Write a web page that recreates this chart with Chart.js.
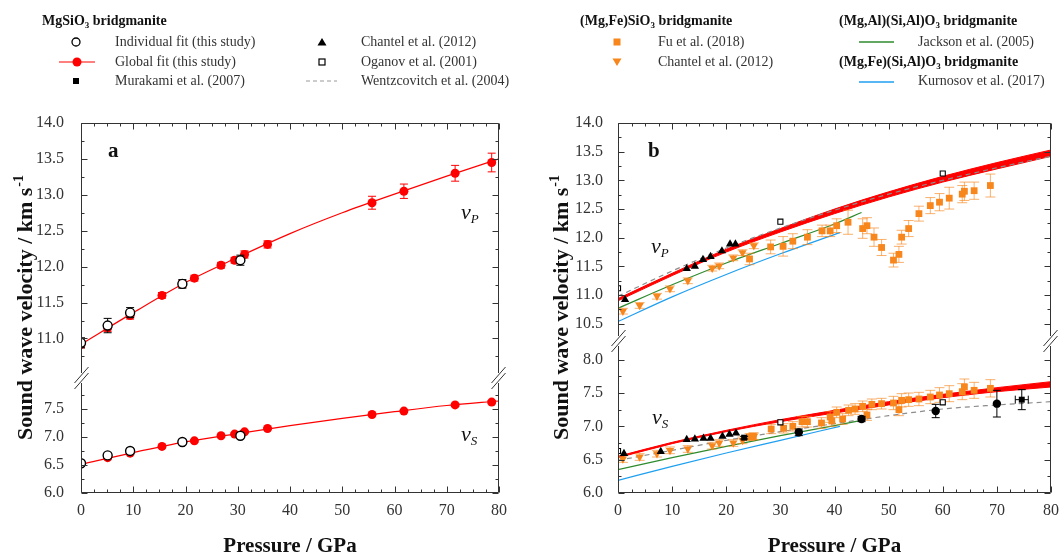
<!DOCTYPE html>
<html>
<head>
<meta charset="utf-8">
<title>Sound wave velocities of bridgmanite</title>
<script src="https://cdn.jsdelivr.net/npm/chart.js@4.4.1/dist/chart.umd.min.js"></script>
<style>
  body{margin:0;background:#fff;font-family:"Liberation Serif","Times New Roman",serif;}
  #wrap{position:relative;width:1059px;height:557px;overflow:hidden;}
  canvas{position:absolute;top:0;}
  #ca{left:0;} #cb{left:540px;}
  .hd,.lg{position:absolute;height:18px;line-height:18px;white-space:nowrap;font-size:14px;}
  .hd{font-weight:bold;color:#111;}
  .lg{color:#333;}
  .hd sub{font-size:9px;vertical-align:-3px;line-height:0;}
  .mk{position:absolute;}
</style>
</head>
<body>
<div id="wrap">
  <canvas id="ca" width="540" height="557"></canvas>
  <canvas id="cb" width="519" height="557"></canvas>

  <div class="hd" style="left:42px;top:12px">MgSiO<sub>3</sub> bridgmanite</div>
  <svg class="mk" style="left:70px;top:36px" width="12" height="12"><circle cx="6" cy="6" r="4" fill="#fff" stroke="#000" stroke-width="1.3"/></svg>
  <div class="lg" style="left:115px;top:33px">Individual fit (this study)</div>
  <svg class="mk" style="left:59px;top:56px" width="36" height="12"><line x1="0" y1="6" x2="36" y2="6" stroke="#f00" stroke-width="1.2"/><circle cx="18" cy="6" r="4.5" fill="#f00"/></svg>
  <div class="lg" style="left:115px;top:53px">Global fit (this study)</div>
  <svg class="mk" style="left:70px;top:75px" width="12" height="12"><rect x="3" y="3" width="6" height="6" fill="#000"/></svg>
  <div class="lg" style="left:115px;top:72px">Murakami et al. (2007)</div>

  <svg class="mk" style="left:316px;top:36px" width="12" height="12"><polygon points="6,2 10.5,9.5 1.5,9.5" fill="#000"/></svg>
  <div class="lg" style="left:361px;top:33px">Chantel et al. (2012)</div>
  <svg class="mk" style="left:316px;top:56px" width="12" height="12"><rect x="3" y="3" width="6" height="6" fill="#fff" stroke="#000" stroke-width="1.2"/></svg>
  <div class="lg" style="left:361px;top:53px">Oganov et al. (2001)</div>
  <svg class="mk" style="left:306px;top:75px" width="31" height="12"><line x1="0" y1="6" x2="31" y2="6" stroke="#999" stroke-width="1.2" stroke-dasharray="4 3"/></svg>
  <div class="lg" style="left:361px;top:72px">Wentzcovitch et al. (2004)</div>

  <div class="hd" style="left:580px;top:12px">(Mg,Fe)SiO<sub>3</sub> bridgmanite</div>
  <svg class="mk" style="left:611px;top:36px" width="12" height="12"><rect x="2.5" y="2.5" width="7" height="7" fill="#f7861c"/></svg>
  <div class="lg" style="left:658px;top:33px">Fu et al. (2018)</div>
  <svg class="mk" style="left:611px;top:56px" width="12" height="12"><polygon points="1.5,2.5 10.5,2.5 6,10" fill="#f7861c"/></svg>
  <div class="lg" style="left:658px;top:53px">Chantel et al. (2012)</div>

  <div class="hd" style="left:839px;top:12px">(Mg,Al)(Si,Al)O<sub>3</sub> bridgmanite</div>
  <svg class="mk" style="left:859px;top:36px" width="35" height="12"><line x1="0" y1="6" x2="35" y2="6" stroke="#2e8b2e" stroke-width="1.3"/></svg>
  <div class="lg" style="left:918px;top:33px">Jackson et al. (2005)</div>
  <div class="hd" style="left:839px;top:53px">(Mg,Fe)(Si,Al)O<sub>3</sub> bridgmanite</div>
  <svg class="mk" style="left:859px;top:76px" width="35" height="12"><line x1="0" y1="6" x2="35" y2="6" stroke="#1e9ff0" stroke-width="1.3"/></svg>
  <div class="lg" style="left:918px;top:72px">Kurnosov et al. (2017)</div>
</div>

<script>
// ---- panel a: MgSiO3, this study ----
const pGlobal = [0, 5.1, 9.4, 15.5, 19.4, 21.7, 26.8, 29.4, 31.3, 35.7, 55.7, 61.8, 71.6, 78.6];
const vpGlobal = [10.92, 11.15, 11.32, 11.60, 11.76, 11.84, 12.02, 12.09, 12.17, 12.31, 12.89, 13.05, 13.30, 13.45];
const vpGlobalErr = [0.05, 0.05, 0.05, 0.04, 0.05, 0.04, 0.04, 0.04, 0.05, 0.05, 0.09, 0.10, 0.11, 0.13];
const vsGlobal = [6.52, 6.63, 6.71, 6.83, 6.90, 6.93, 7.02, 7.05, 7.09, 7.15, 7.40, 7.46, 7.57, 7.62];
const vsGlobalErr = [0.02, 0.02, 0.02, 0.02, 0.02, 0.02, 0.02, 0.02, 0.02, 0.02, 0.02, 0.02, 0.02, 0.03];

const pIndiv = [0, 5.1, 9.4, 19.4, 30.5];
const vpIndiv = [10.94, 11.18, 11.36, 11.76, 12.09];
const vpIndivErr = [0.07, 0.10, 0.07, 0.06, 0.07];
const vsIndiv = [6.53, 6.67, 6.75, 6.91, 7.02];
const vsIndivErr = [0.04, 0.04, 0.04, 0.03, 0.04];

const pFit = [0, 10, 20, 30, 40, 50, 60, 70, 80];
const vpFit = [10.92, 11.36, 11.78, 12.13, 12.46, 12.75, 13.01, 13.26, 13.50];
const vsFit = [6.51, 6.72, 6.91, 7.06, 7.20, 7.33, 7.45, 7.56, 7.64];

// ---- panel b: literature ----
const vpBandHi = [10.94, 11.38, 11.80, 12.16, 12.50, 12.80, 13.07, 13.31, 13.53];
const vpBandLo = [10.90, 11.34, 11.75, 12.10, 12.42, 12.71, 12.97, 13.20, 13.42];
const vsBandHi = [6.55, 6.76, 6.94, 7.10, 7.24, 7.37, 7.48, 7.58, 7.67];
const vsBandLo = [6.53, 6.74, 6.92, 7.07, 7.20, 7.32, 7.43, 7.52, 7.59];
const vpWentz = [10.98, 11.42, 11.82, 12.17, 12.48, 12.76, 13.00, 13.22, 13.42];
const vsWentz = [6.49, 6.64, 6.79, 6.92, 7.04, 7.16, 7.26, 7.32, 7.37];

const pJackson = [0, 10, 20, 30, 40, 45];
const vpJackson = [10.77, 11.18, 11.56, 11.90, 12.24, 12.44];
const vsJackson = [6.35, 6.53, 6.70, 6.86, 7.01, 7.09];
const pKurnosov = [0, 10, 20, 30, 41];
const vpKurnosov = [10.54, 10.97, 11.36, 11.72, 12.09];
const vsKurnosov = [6.19, 6.40, 6.60, 6.79, 7.00];

const pOganov = [0, 30, 60];
const vpOganov = [11.12, 12.28, 13.12];
const vsOganov = [6.63, 7.06, 7.36];

const pChantelVp = [1.3, 12.7, 14.2, 15.7, 17.1, 19.2, 20.7, 21.7];
const vpChantel = [10.92, 11.46, 11.50, 11.62, 11.67, 11.77, 11.89, 11.89];
const pChantelVs = [1.1, 7.9, 12.7, 14.2, 15.8, 17.1, 19.3, 20.6, 21.8];
const vsChantel = [6.59, 6.62, 6.80, 6.81, 6.82, 6.82, 6.85, 6.88, 6.90];

const pMurakami = [23.3, 33.4, 45.0, 58.7, 70.0, 74.6];
const vsMurakami = [6.83, 6.91, 7.11, 7.23, 7.34, 7.40];
const vsMurakamiErr = [0.02, 0.05, 0.04, 0.10, 0.20, 0.15];
const pMurakamiErr = [0, 0, 0, 0, 0, 1.2];

const pChantelFe = [0.9, 4.0, 7.2, 9.6, 12.9, 17.4, 18.7, 21.3, 23.0, 25.1];
const vpChantelFe = [10.72, 10.82, 10.98, 11.11, 11.25, 11.47, 11.51, 11.65, 11.74, 11.86];
const vsChantelFe = [6.51, 6.54, 6.59, 6.64, 6.66, 6.71, 6.75, 6.75, 6.79, 6.85];
const feErr = [0.05, 0.05, 0.05, 0.05, 0.05, 0.05, 0.05, 0.05, 0.05, 0.05];

const pFuVp = [24.3, 28.2, 30.5, 32.3, 35.0, 37.7, 39.2, 40.4, 42.5, 45.2, 46.0, 47.3, 48.7, 50.9, 51.9, 52.4, 53.7, 55.6, 57.7, 59.4, 61.2, 63.6, 64.0, 65.8, 68.8];
const vpFu = [11.63, 11.84, 11.85, 11.94, 12.01, 12.12, 12.12, 12.21, 12.27, 12.16, 12.21, 12.01, 11.83, 11.61, 11.71, 12.01, 12.16, 12.42, 12.56, 12.62, 12.69, 12.76, 12.81, 12.82, 12.91];
const vpFuErr = [0.10, 0.12, 0.17, 0.13, 0.13, 0.10, 0.10, 0.12, 0.21, 0.17, 0.14, 0.16, 0.14, 0.12, 0.14, 0.12, 0.14, 0.13, 0.14, 0.15, 0.19, 0.15, 0.16, 0.15, 0.20];
const pFuVs = [24.3, 25.0, 28.3, 30.6, 32.3, 34.0, 35.0, 37.6, 39.2, 39.5, 40.4, 41.5, 42.6, 43.8, 45.2, 46.0, 46.9, 48.7, 50.9, 51.9, 52.4, 53.7, 55.6, 57.7, 59.4, 61.2, 63.6, 64.0, 65.8, 68.8];
const vsFu = [6.84, 6.85, 6.96, 6.97, 7.00, 7.07, 7.07, 7.05, 7.14, 7.08, 7.21, 7.11, 7.24, 7.26, 7.30, 7.17, 7.33, 7.34, 7.35, 7.25, 7.39, 7.40, 7.41, 7.44, 7.47, 7.49, 7.52, 7.59, 7.54, 7.57];
const vsFuErr = [0.05, 0.05, 0.07, 0.07, 0.07, 0.08, 0.08, 0.08, 0.08, 0.08, 0.08, 0.08, 0.08, 0.08, 0.08, 0.08, 0.08, 0.08, 0.10, 0.09, 0.10, 0.10, 0.10, 0.10, 0.11, 0.12, 0.12, 0.12, 0.12, 0.13];

// ---- axes ----
const xTicks = [0, 10, 20, 30, 40, 50, 60, 70, 80];
const vpTicksA = [11.0, 11.5, 12.0, 12.5, 13.0, 13.5, 14.0];
const vsTicksA = [6.0, 6.5, 7.0, 7.5];
const vpTicksB = [10.5, 11.0, 11.5, 12.0, 12.5, 13.0, 13.5, 14.0];
const vsTicksB = [6.0, 6.5, 7.0, 7.5, 8.0];
const xTitle = 'Pressure / GPa';
const yTitle = 'Sound wave velocity / km s';
const ySup = '-1';

const FONT = '"Liberation Serif", "Times New Roman", serif';
const RED = '#ff0000', ORANGE = '#f7861c', ORANGE_ERR = 'rgba(247,134,28,0.65)';

const pts = (xs, ys) => xs.map((x, i) => ({x, y: ys[i]}));

// error bars drawn just before each dataset's own markers
const errBars = {
  id: 'errBars',
  beforeDatasetDraw(chart, args) {
    const ds = chart.data.datasets[args.index];
    if (!ds.errY && !ds.errX) return;
    const {ctx, chartArea: a} = chart;
    const xs = chart.scales.x, ys = chart.scales[ds.yAxisID];
    const cap = ds.capW || 4;
    ctx.save();
    ctx.beginPath(); ctx.rect(a.left, a.top, a.right - a.left, a.bottom - a.top); ctx.clip();
    ctx.strokeStyle = ds.errColor || '#000';
    ctx.lineWidth = 1;
    ds.data.forEach((d, i) => {
      const px = xs.getPixelForValue(d.x), py = ys.getPixelForValue(d.y);
      const e = ds.errY ? ds.errY[i] : 0;
      if (e) {
        const t = ys.getPixelForValue(d.y + e), b = ys.getPixelForValue(d.y - e);
        ctx.beginPath();
        ctx.moveTo(px, t); ctx.lineTo(px, b);
        ctx.moveTo(px - cap, t); ctx.lineTo(px + cap, t);
        ctx.moveTo(px - cap, b); ctx.lineTo(px + cap, b);
        ctx.stroke();
      }
      const ex = ds.errX ? ds.errX[i] : 0;
      if (ex) {
        const l = xs.getPixelForValue(d.x - ex), r = xs.getPixelForValue(d.x + ex);
        ctx.beginPath();
        ctx.moveTo(l, py); ctx.lineTo(r, py);
        ctx.moveTo(l, py - cap); ctx.lineTo(l, py + cap);
        ctx.moveTo(r, py - cap); ctx.lineTo(r, py + cap);
        ctx.stroke();
      }
    });
    ctx.restore();
  }
};

// box, inward ticks and axis breaks
const frame = {
  id: 'frame',
  afterDraw(chart) {
    const {ctx, chartArea: a, scales} = chart;
    const brk = scales.y1.bottom;
    const L = Math.round(a.left) + 0.5, R = Math.round(a.right) - 0.5;
    const T = Math.round(a.top) + 0.5, B = Math.round(a.bottom) - 0.5;
    ctx.save();
    ctx.strokeStyle = '#333'; ctx.lineWidth = 1;
    const seg = (x1, y1, x2, y2) => { ctx.beginPath(); ctx.moveTo(x1, y1); ctx.lineTo(x2, y2); ctx.stroke(); };
    seg(L, T, R, T);
    seg(L, B, R, B);
    for (const px of [L, R]) {
      seg(px, T, px, brk - 5);
      seg(px, brk + 5, px, B);
      for (const d of [-3, 3]) seg(px - 7, brk + 8 + d, px + 7, brk - 8 + d);
    }
    for (let i = 0; i <= 32; i++) {
      const px = Math.round(scales.x.getPixelForValue(i * 2.5)) + 0.5;
      const len = i % 4 ? 3 : 6;
      seg(px, B, px, B - len);
      seg(px, T, px, T + len);
    }
    for (const s of [scales.y1, scales.y2]) {
      for (let k = Math.ceil(s.min * 4); k <= Math.floor(s.max * 4 + 1e-6); k++) {
        const py = Math.round(s.getPixelForValue(k / 4)) + 0.5;
        if (Math.abs(py - brk) < 7) continue;
        const len = k % 2 ? 3 : 6;
        seg(L, py, L + len, py);
        seg(R, py, R - len, py);
      }
    }
    ctx.restore();
  }
};

// axis titles and in-plot labels
const decor = {
  id: 'decor',
  afterDraw(chart, args, o) {
    const {ctx, chartArea: a} = chart;
    ctx.save();
    ctx.fillStyle = '#111';
    ctx.textBaseline = 'alphabetic';
    ctx.font = 'bold 21px ' + FONT;
    ctx.textAlign = 'center';
    ctx.fillText(xTitle, (a.left + a.right) / 2, 552);

    ctx.save();
    ctx.translate(o.titleX, (a.top + a.bottom) / 2);
    ctx.rotate(-Math.PI / 2);
    ctx.textAlign = 'left';
    ctx.font = 'bold 22px ' + FONT;
    const w1 = ctx.measureText(yTitle).width;
    ctx.font = 'bold 14px ' + FONT;
    const w2 = ctx.measureText(ySup).width;
    const x0 = -(w1 + w2) / 2;
    ctx.font = 'bold 22px ' + FONT;
    ctx.fillText(yTitle, x0, 0);
    ctx.font = 'bold 14px ' + FONT;
    ctx.fillText(ySup, x0 + w1 + 1, -9);
    ctx.restore();

    ctx.textAlign = 'left';
    ctx.font = 'bold 21px ' + FONT;
    ctx.fillText(o.letter, o.letterX, 157);
    for (const lab of o.labels) {
      ctx.font = 'italic 22px ' + FONT;
      ctx.fillText('v', lab.x, lab.y);
      const w = ctx.measureText('v').width;
      ctx.font = 'italic 13px ' + FONT;
      ctx.fillText(lab.sub, lab.x + w, lab.y + 4);
    }
    ctx.restore();
  }
};

function yScale(ticks, min, max, weight, width, pad, order) {
  return {
    type: 'linear', position: 'left', stack: 'v', stackWeight: weight, weight: order,
    min, max,
    afterBuildTicks: s => { s.ticks = ticks.map(v => ({value: v})); },
    afterFit: s => { s.width = width; },
    grid: {display: false}, border: {display: false},
    ticks: {font: {family: FONT, size: 16}, color: '#333', padding: pad, autoSkip: false,
      callback: v => v.toFixed(1)}
  };
}

function options(cfg) {
  return {
    responsive: false, animation: false, events: [],
    layout: {padding: {top: 123, right: cfg.right, bottom: 0, left: 0}},
    scales: {
      x: {
        type: 'linear', min: 0, max: 80,
        afterBuildTicks: s => { s.ticks = xTicks.map(v => ({value: v})); },
        afterFit: s => { s.height = 64; },
        grid: {display: false}, border: {display: false},
        ticks: {font: {family: FONT, size: 16}, color: '#333', padding: 0, autoSkip: false, maxRotation: 0}
      },
      y1: yScale(cfg.vpTicks, cfg.vpMin, 14.0, cfg.wTop, cfg.yW, cfg.pad, 2),
      y2: yScale(cfg.vsTicks, 6.0, cfg.vsMax, cfg.wBot, cfg.yW, cfg.pad, 1)
    },
    plugins: {
      legend: {display: false}, tooltip: {enabled: false},
      decor: cfg.decor
    }
  };
}

const line = (data, yAxisID, color, extra) => Object.assign({
  type: 'line', data, yAxisID, borderColor: color, borderWidth: 1.2,
  pointRadius: 0, fill: false, cubicInterpolationMode: 'monotone'
}, extra || {});

const marks = (data, yAxisID, style, extra) => Object.assign({
  data, yAxisID, showLine: false, pointStyle: style
}, extra || {});

// ---------- chart a ----------
const openCircle = {pointRadius: 4.5, pointBackgroundColor: '#fff', pointBorderColor: '#000', pointBorderWidth: 1.4, errColor: '#000', capW: 4};
const redDot = {pointRadius: 4.5, pointBackgroundColor: RED, pointBorderColor: RED, pointBorderWidth: 0, errColor: RED, capW: 4};

new Chart(document.getElementById('ca'), {
  type: 'scatter',
  data: {datasets: [
    marks(pts(pIndiv, vpIndiv), 'y1', 'circle', Object.assign({errY: vpIndivErr}, openCircle)),
    marks(pts(pIndiv, vsIndiv), 'y2', 'circle', Object.assign({errY: vsIndivErr}, openCircle)),
    marks(pts(pGlobal, vpGlobal), 'y1', 'circle', Object.assign({errY: vpGlobalErr}, redDot)),
    marks(pts(pGlobal, vsGlobal), 'y2', 'circle', Object.assign({errY: vsGlobalErr}, redDot)),
    line(pts(pFit, vpFit), 'y1', RED),
    line(pts(pFit, vsFit), 'y2', RED)
  ]},
  options: options({
    right: 41, yW: 81, pad: 9, vpMin: 10.45, vsMax: 8.05, wTop: 255, wBot: 115,
    vpTicks: vpTicksA, vsTicks: vsTicksA,
    decor: {titleX: 32, letter: 'a', letterX: 108,
      labels: [{x: 461, y: 219, sub: 'P'}, {x: 461, y: 441, sub: 'S'}]}
  }),
  plugins: [errBars, frame, decor]
});

// ---------- chart b ----------
const blackTri = {pointRadius: 4.8, pointBackgroundColor: '#000', pointBorderColor: '#000', pointBorderWidth: 0};
const openSq = {pointRadius: 3.6, pointBackgroundColor: '#fff', pointBorderColor: '#000', pointBorderWidth: 1.1};
const orangeSq = {pointRadius: 4.8, pointBackgroundColor: ORANGE, pointBorderColor: ORANGE, pointBorderWidth: 0, errColor: ORANGE_ERR, capW: 5};
const orangeTri = {pointRadius: 4.8, pointRotation: 180, pointBackgroundColor: ORANGE, pointBorderColor: ORANGE, pointBorderWidth: 0, errColor: ORANGE_ERR, capW: 5};

new Chart(document.getElementById('cb'), {
  type: 'scatter',
  data: {datasets: [
    marks(pts(pMurakami, vsMurakami), 'y2', ['rect', 'circle', 'circle', 'circle', 'circle', 'rect'],
      {pointRadius: 4.2, pointBackgroundColor: '#000', pointBorderColor: '#000', pointBorderWidth: 0,
       errY: vsMurakamiErr, errX: pMurakamiErr, errColor: '#000', capW: 4}),
    marks(pts(pChantelVp, vpChantel), 'y1', 'triangle', blackTri),
    marks(pts(pChantelVs, vsChantel), 'y2', 'triangle', blackTri),
    marks(pts(pOganov, vpOganov), 'y1', 'rect', openSq),
    marks(pts(pOganov, vsOganov), 'y2', 'rect', openSq),
    marks(pts(pFuVp, vpFu), 'y1', 'rect', Object.assign({errY: vpFuErr}, orangeSq)),
    marks(pts(pFuVs, vsFu), 'y2', 'rect', Object.assign({errY: vsFuErr}, orangeSq)),
    marks(pts(pChantelFe, vpChantelFe), 'y1', 'triangle', Object.assign({errY: feErr}, orangeTri)),
    marks(pts(pChantelFe, vsChantelFe), 'y2', 'triangle', Object.assign({errY: feErr}, orangeTri)),
    line(pts(pKurnosov, vpKurnosov), 'y1', '#1e9ff0'),
    line(pts(pKurnosov, vsKurnosov), 'y2', '#1e9ff0'),
    line(pts(pJackson, vpJackson), 'y1', '#2e8b2e'),
    line(pts(pJackson, vsJackson), 'y2', '#2e8b2e'),
    line(pts(pFit, vpWentz), 'y1', '#8c8c8c', {borderDash: [5, 4]}),
    line(pts(pFit, vsWentz), 'y2', '#8c8c8c', {borderDash: [5, 4]}),
    line(pts(pFit, vpBandHi), 'y1', RED, {borderWidth: 1}),
    line(pts(pFit, vpBandLo), 'y1', RED, {borderWidth: 1, fill: '-1', backgroundColor: RED}),
    line(pts(pFit, vsBandHi), 'y2', RED, {borderWidth: 1}),
    line(pts(pFit, vsBandLo), 'y2', RED, {borderWidth: 1, fill: '-1', backgroundColor: RED})
  ]},
  options: options({
    right: 8, yW: 78, pad: 7, vpMin: 10.2, vsMax: 8.28, wTop: 218, wBot: 152,
    vpTicks: vpTicksB, vsTicks: vsTicksB,
    decor: {titleX: 28, letter: 'b', letterX: 108,
      labels: [{x: 111, y: 253, sub: 'P'}, {x: 112, y: 424, sub: 'S'}]}
  }),
  plugins: [errBars, frame, decor]
});
</script>
</body>
</html>
